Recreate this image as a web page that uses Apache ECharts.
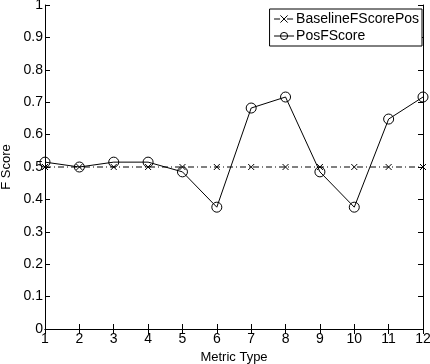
<!DOCTYPE html>
<html>
<head>
<meta charset="utf-8">
<script src="https://cdn.jsdelivr.net/npm/echarts@6/dist/echarts.min.js"></script>
<style>
  html, body { margin: 0; padding: 0; background: #fff; }
  #chart { width: 430px; height: 364px; }
</style>
</head>
<body>
<div id="chart"></div>
<script>
const metricTypes = [1, 2, 3, 4, 5, 6, 7, 8, 9, 10, 11, 12]
const baselineFScorePos = [0.5, 0.5, 0.5, 0.5, 0.5, 0.5, 0.5, 0.5, 0.5, 0.5, 0.5, 0.5]
const posFScore = [0.515, 0.5, 0.515, 0.515, 0.485, 0.376, 0.682, 0.716, 0.485, 0.376, 0.648, 0.716]

const font = 'Liberation Sans, Arial, sans-serif'
const crossPath = 'path://M0,0L10,10M10,0L0,10'

const chart = echarts.init(document.getElementById('chart'))

const boxAxis = {
  type: 'value',
  min: 1, max: 12, interval: 1,
  axisLine: { show: true, lineStyle: { color: '#000', width: 1 } },
  axisTick: { show: true, inside: true, length: 5, lineStyle: { color: '#000' } },
  splitLine: { show: false },
}

chart.setOption({
  animation: false,
  backgroundColor: '#fff',
  textStyle: { fontFamily: font, color: '#000' },
  grid: { left: 45, right: 7, top: 5, bottom: 35, containLabel: false, outerBoundsMode: 'none' },
  legend: {
    right: 8, top: 9,
    orient: 'vertical',
    itemGap: 3,
    itemWidth: 20, itemHeight: 9,
    padding: [3, 3, 3, 4],
    borderColor: '#000', borderWidth: 1,
    backgroundColor: '#fff',
    lineStyle: { width: 1 },
    itemStyle: { borderWidth: 1 },
    textStyle: { fontFamily: font, fontSize: 14, color: '#000', padding: [0, 0, 0, -3] },
    data: ['BaselineFScorePos', 'PosFScore'],
  },
  xAxis: [
    {
      ...boxAxis,
      position: 'bottom',
      name: 'Metric Type',
      nameLocation: 'middle',
      nameGap: 19,
      nameTextStyle: { fontFamily: font, fontSize: 13, color: '#000' },
      axisLabel: { color: '#000', fontSize: 14, fontFamily: font, margin: 3 },
    },
    {
      ...boxAxis,
      position: 'top',
      axisLabel: { show: false },
    },
  ],
  yAxis: [
    {
      type: 'value',
      min: 0, max: 1, interval: 0.1,
      position: 'left',
      name: 'F Score',
      nameLocation: 'middle',
      nameGap: 32,
      nameTextStyle: { fontFamily: font, fontSize: 13, color: '#000' },
      axisLine: { show: true, lineStyle: { color: '#000', width: 1 } },
      axisTick: { show: true, inside: true, length: 5, lineStyle: { color: '#000' } },
      axisLabel: {
        color: '#000', fontSize: 14, fontFamily: font, margin: 2,
        formatter: v => (Math.round(v * 10) / 10).toString(),
      },
      splitLine: { show: false },
    },
    {
      type: 'value',
      min: 0, max: 1, interval: 0.1,
      position: 'right',
      axisLine: { show: true, lineStyle: { color: '#000', width: 1 } },
      axisTick: { show: true, inside: true, length: 5, lineStyle: { color: '#000' } },
      axisLabel: { show: false },
      splitLine: { show: false },
    },
  ],
  series: [
    {
      name: 'BaselineFScorePos',
      type: 'line',
      data: metricTypes.map((x, i) => [x, baselineFScorePos[i]]),
      symbol: crossPath,
      symbolSize: 6,
      lineStyle: { color: '#000', width: 1, type: [6, 3, 1, 3] },
      itemStyle: { color: '#000', borderColor: '#000', borderWidth: 1 },
      z: 2,
    },
    {
      name: 'PosFScore',
      type: 'line',
      data: metricTypes.map((x, i) => [x, posFScore[i]]),
      symbol: 'circle',
      symbolSize: 10,
      showAllSymbol: true,
      lineStyle: { color: '#000', width: 1 },
      itemStyle: { color: 'rgba(255,255,255,0)', borderColor: '#000', borderWidth: 1 },
      z: 3,
    },
  ],
})
</script>
</body>
</html>
